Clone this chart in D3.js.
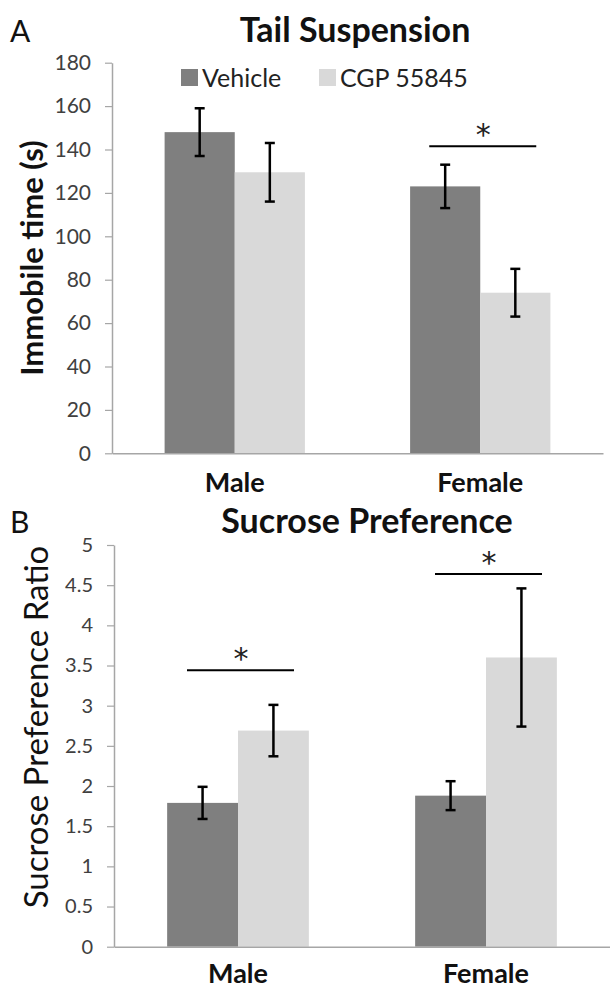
<!DOCTYPE html>
<html>
<head>
<meta charset="utf-8">
<script src="https://cdn.jsdelivr.net/npm/d3@7"></script>
<style>
  body { margin: 0; background: #fff; }
  svg text { font-family: Lato, "Open Sans", sans-serif; }
</style>
</head>
<body>
<div id="chart"></div>
<script>
var width = 610,
    height = 993;

// categories and series
var groups = ["Male", "Female"];
var seriesNames = ["Vehicle", "CGP 55845"];
var seriesColors = ["#7f7f7f", "#d9d9d9"];

// panel A: tail suspension, immobile time (s)
var tailVehicle = [148, 123];
var tailCGP = [129.5, 74];
var tailVehicleErr = [11, 10];
var tailCGPErr = [13.5, 11];
var tailTicks = [0, 20, 40, 60, 80, 100, 120, 140, 160, 180];
var tailSig = [{group: "Female", y: 141.5}];

// panel B: sucrose preference ratio
var sucVehicle = [1.79, 1.88];
var sucCGP = [2.69, 3.60];
var sucVehicleErr = [0.2, 0.18];
var sucCGPErr = [0.32, 0.86];
var sucTicks = [0, 0.5, 1, 1.5, 2, 2.5, 3, 3.5, 4, 4.5, 5];
var sucSig = [{group: "Male", y: 3.44}, {group: "Female", y: 4.64}];

var svg = d3.select("#chart")
    .append("svg")
    .attr("width", width)
    .attr("height", height);

function rows(vehicle, cgp, vErr, cErr) {
    var out = [];
    groups.forEach(function (g, i) {
        out.push({group: g, series: seriesNames[0], value: vehicle[i], err: vErr[i]});
        out.push({group: g, series: seriesNames[1], value: cgp[i], err: cErr[i]});
    });
    return out;
}

function drawPanel(opt) {
    var gap = 1.5 / 3.5;
    var x0 = d3.scaleBand()
        .domain(groups)
        .range(opt.xRange)
        .paddingInner(gap)
        .paddingOuter(gap / 2);
    var x1 = d3.scaleBand()
        .domain(seriesNames)
        .range([0, x0.bandwidth()]);
    var color = d3.scaleOrdinal().domain(seriesNames).range(seriesColors);
    var y = d3.scaleLinear()
        .domain([0, opt.ticks[opt.ticks.length - 1]])
        .range(opt.yRange);

    var g = svg.append("g");

    // y axis
    var yAxis = g.append("g")
        .attr("transform", "translate(" + opt.xRange[0] + ",0)")
        .call(d3.axisLeft(y).tickValues(opt.ticks).tickSize(7).tickSizeOuter(0).tickPadding(14)
            .tickFormat(function (d) { return d; }));
    yAxis.select(".domain").attr("stroke", "#a6a6a6").attr("stroke-width", 1.5);
    yAxis.selectAll(".tick line").attr("stroke", "#a6a6a6").attr("stroke-width", 1.2);
    yAxis.selectAll(".tick text")
        .attr("fill", "#404040")
        .style("font-size", opt.tickSize)
        .style("font-family", "Lato, sans-serif");

    // bars
    var data = rows(opt.vehicle, opt.cgp, opt.vErr, opt.cErr);
    g.selectAll(".bar")
        .data(data)
      .enter().append("rect")
        .attr("class", "bar")
        .attr("x", function (d) { return x0(d.group) + x1(d.series); })
        .attr("width", x1.bandwidth())
        .attr("y", function (d) { return y(d.value); })
        .attr("height", function (d) { return y(0) - y(d.value); })
        .attr("fill", function (d) { return color(d.series); });

    // x axis
    var xAxis = g.append("g")
        .attr("transform", "translate(0," + opt.yRange[0] + ")")
        .call(d3.axisBottom(x0).tickSize(0).tickSizeOuter(0).tickPadding(opt.xLabelPad));
    xAxis.select(".domain").attr("stroke", "#a6a6a6").attr("stroke-width", 1.5);
    xAxis.selectAll(".tick text")
        .attr("fill", "#111")
        .style("font-size", "27px")
        .style("font-weight", "bold")
        .style("font-family", "Lato, sans-serif");

    // error bars
    var eb = g.selectAll(".err")
        .data(data)
      .enter().append("g")
        .attr("class", "err")
        .attr("stroke", "#000")
        .attr("stroke-width", 2.5);
    eb.append("line")
        .attr("x1", function (d) { return x0(d.group) + x1(d.series) + x1.bandwidth() / 2; })
        .attr("x2", function (d) { return x0(d.group) + x1(d.series) + x1.bandwidth() / 2; })
        .attr("y1", function (d) { return y(d.value + d.err); })
        .attr("y2", function (d) { return y(d.value - d.err); });
    [1, -1].forEach(function (s) {
        eb.append("line")
            .attr("x1", function (d) { return x0(d.group) + x1(d.series) + x1.bandwidth() / 2 - 5; })
            .attr("x2", function (d) { return x0(d.group) + x1(d.series) + x1.bandwidth() / 2 + 5; })
            .attr("y1", function (d) { return y(d.value + s * d.err); })
            .attr("y2", function (d) { return y(d.value + s * d.err); });
    });

    // significance markers
    var sig = g.selectAll(".sig")
        .data(opt.sig)
      .enter().append("g")
        .attr("class", "sig");
    sig.append("line")
        .attr("x1", function (d) { return x0(d.group) + x0.bandwidth() / 2 - 51; })
        .attr("x2", function (d) { return x0(d.group) + x0.bandwidth() / 2 + 56; })
        .attr("y1", function (d) { return y(d.y); })
        .attr("y2", function (d) { return y(d.y); })
        .attr("stroke", "#000")
        .attr("stroke-width", 2);
    sig.append("text")
        .attr("x", function (d) { return x0(d.group) + x0.bandwidth() / 2 + 3; })
        .attr("y", function (d) { return y(d.y) - 1; })
        .attr("text-anchor", "middle")
        .style("font-size", "30px")
        .style("font-family", "'DejaVu Sans', sans-serif")
        .attr("fill", "#222")
        .text("*");

    // titles
    g.append("text")
        .attr("x", opt.titleX)
        .attr("y", opt.titleY)
        .attr("text-anchor", "middle")
        .style("font-size", "34px")
        .style("font-weight", "bold")
        .attr("fill", "#111")
        .text(opt.title);
    g.append("text")
        .attr("x", 10)
        .attr("y", opt.titleY)
        .style("font-size", "30px")
        .attr("fill", "#111")
        .text(opt.letter);
    g.append("text")
        .attr("transform", "translate(" + opt.yTitleX + "," + opt.yTitleY + ") rotate(-90)")
        .attr("text-anchor", "middle")
        .style("font-size", opt.yTitleSize)
        .style("font-weight", opt.yTitleWeight)
        .attr("fill", "#111")
        .text(opt.yTitle);
}

drawPanel({
    xRange: [112, 603], yRange: [453.3, 62.7], ticks: tailTicks, tickSize: "21px",
    vehicle: tailVehicle, cgp: tailCGP, vErr: tailVehicleErr, cErr: tailCGPErr, sig: tailSig,
    title: "Tail Suspension", letter: "A", titleX: 355, titleY: 42,
    yTitle: "Immobile time (s)", yTitleX: 43, yTitleY: 258, yTitleSize: "31px", yTitleWeight: "bold",
    xLabelPad: 20
});
drawPanel({
    xRange: [114, 610], yRange: [946.7, 545], ticks: sucTicks, tickSize: "20px",
    vehicle: sucVehicle, cgp: sucCGP, vErr: sucVehicleErr, cErr: sucCGPErr, sig: sucSig,
    title: "Sucrose Preference", letter: "B", titleX: 367, titleY: 533,
    yTitle: "Sucrose Preference Ratio", yTitleX: 48, yTitleY: 727, yTitleSize: "33px", yTitleWeight: "normal",
    xLabelPad: 17
});

// legend (panel A)
var legend = svg.append("g").attr("transform", "translate(181,69)");
var li = legend.selectAll(".leg")
    .data(seriesNames)
  .enter().append("g")
    .attr("class", "leg")
    .attr("transform", function (d, i) { return "translate(" + (i * 138) + ",0)"; });
li.append("rect")
    .attr("width", 17)
    .attr("height", 17)
    .attr("fill", function (d, i) { return seriesColors[i]; });
li.append("text")
    .attr("x", 21)
    .attr("y", 18)
    .style("font-size", "25px")
    .attr("fill", "#222")
    .text(function (d) { return d; });
</script>
</body>
</html>
